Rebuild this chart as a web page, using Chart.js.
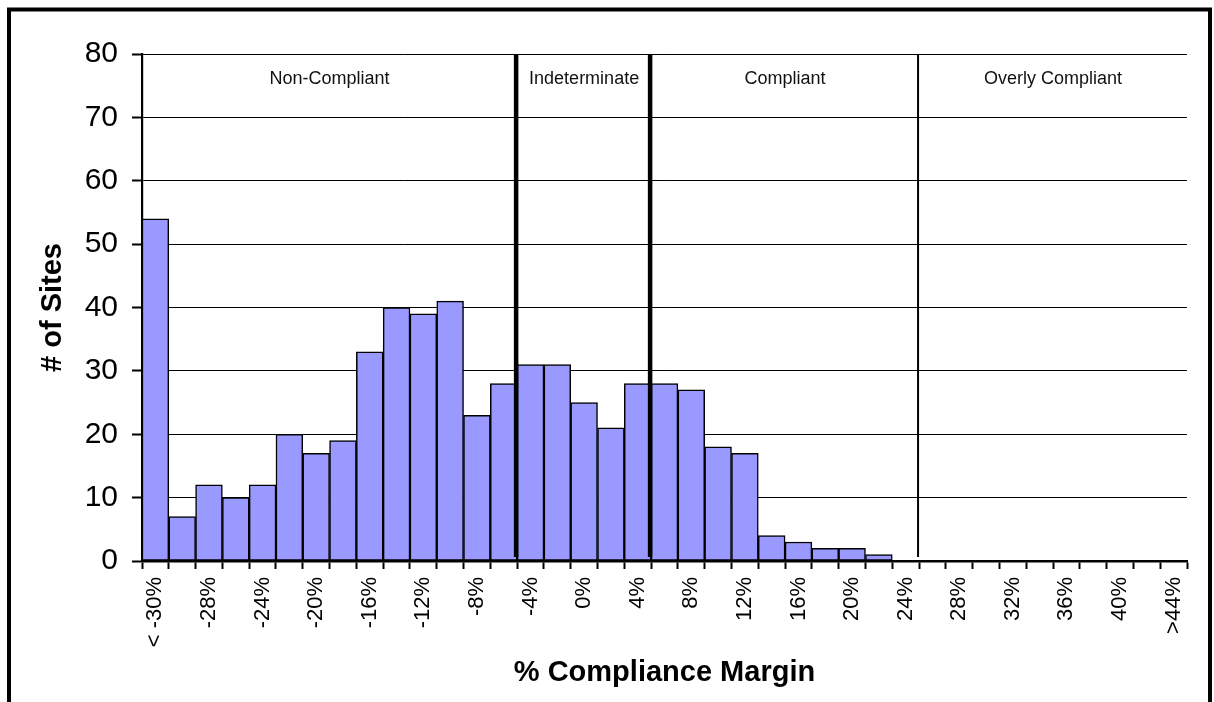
<!DOCTYPE html>
<html><head><meta charset="utf-8">
<script src="https://cdn.jsdelivr.net/npm/chart.js@4.4.1/dist/chart.umd.min.js"></script>
<style>html,body{margin:0;padding:0;background:#fff}#wrap{width:1214px;height:702px;position:relative}</style>
</head><body><div id="wrap"><canvas id="c"></canvas></div>
<script>
const categories = ["< -30%","-30%","-28%","-26%","-24%","-22%","-20%","-18%","-16%","-14%","-12%","-10%","-8%","-6%","-4%","-2%","0%","2%","4%","6%","8%","10%","12%","14%","16%","18%","20%","22%","24%","26%","28%","30%","32%","34%","36%","38%","40%","42%",">44%"];
const siteCounts = [54,7,12,10,12,20,17,19,33,40,39,41,23,28,31,31,25,21,28,28,27,18,17,4,3,2,2,1,0,0,0,0,0,0,0,0,0,0,0];
const yTicks = [0,10,20,30,40,50,60,70,80];
const regionNames = ["Non-Compliant","Indeterminate","Compliant","Overly Compliant"];
const regionBoundaries = [14,19,29];   // category index where each dividing line starts
const regionLineWeights = [4.5,4.5,2];

const FONT = "'Liberation Sans', Arial, Helvetica, sans-serif";

function edgePixel(xs, b) {
  if (b <= 0) return xs.left;
  if (b >= categories.length) return xs.right;
  return (xs.getPixelForValue(b - 1) + xs.getPixelForValue(b)) / 2;
}

const regionPlugin = {
  id: 'regions',
  afterDatasetsDraw(chart) {
    const ctx = chart.ctx, xs = chart.scales.x, ys = chart.scales.y;
    const top = chart.chartArea.top;
    const bottom = ys.getPixelForValue(0) - 4;
    ctx.save();
    ctx.strokeStyle = '#000';
    regionBoundaries.forEach((b, i) => {
      const x = edgePixel(xs, b) - 1;
      ctx.lineWidth = regionLineWeights[i];
      ctx.beginPath(); ctx.moveTo(x, top); ctx.lineTo(x, bottom); ctx.stroke();
    });
    const edges = [0, ...regionBoundaries, categories.length];
    ctx.fillStyle = '#111';
    ctx.font = "18px " + FONT;
    ctx.textAlign = 'center';
    ctx.textBaseline = 'middle';
    const ly = ys.getPixelForValue(76);
    regionNames.forEach((n, i) => {
      const cx = (edgePixel(xs, edges[i]) + edgePixel(xs, edges[i + 1])) / 2;
      ctx.fillText(n, cx, ly);
    });
    ctx.restore();
  },
  afterDraw(chart) {
    const ctx = chart.ctx;
    ctx.save();
    ctx.strokeStyle = '#000';
    ctx.lineWidth = 4;
    ctx.beginPath();
    ctx.moveTo(9, 702); ctx.lineTo(9, 9.5); ctx.lineTo(1210, 9.5); ctx.lineTo(1210, 702);
    ctx.stroke();
    ctx.restore();
  }
};

new Chart(document.getElementById('c'), {
  type: 'bar',
  data: {
    labels: categories,
    datasets: [{
      data: siteCounts,
      backgroundColor: '#9999FF',
      borderColor: '#000',
      borderWidth: 1.5,
      borderSkipped: false,
      barPercentage: 1.0,
      categoryPercentage: 1.0
    }]
  },
  options: {
    responsive: true,
    maintainAspectRatio: false,
    animation: false,
    devicePixelRatio: 1,
    layout: { padding: { left: 12, right: 27, top: 54, bottom: 0 } },
    plugins: { legend: { display: false }, tooltip: { enabled: false } },
    scales: {
      x: {
        afterFit(s) { s.height = 141; },
        grid: { display: true, drawOnChartArea: false, drawTicks: true, tickLength: 8, tickWidth: 2, tickColor: '#000', color: '#000', offset: true },
        border: { display: true, color: '#000', width: 2.5 },
        ticks: {
          autoSkip: false, minRotation: 90, maxRotation: 90, padding: 8,
          color: '#000', font: { family: FONT, size: 22 },
          callback: (v, i) => (i % 2 === 0 ? categories[i] : '')
        },
        title: { display: true, text: '% Compliance Margin', color: '#000',
          font: { family: FONT, size: 29, weight: 'bold' }, padding: { top: 0, bottom: 12 } }
      },
      y: {
        min: 0, max: 80,
        afterFit(s) { s.width = 130; },
        afterBuildTicks(s) { s.ticks = yTicks.map(v => ({ value: v })); },
        grid: { color: '#000', lineWidth: 1, tickLength: 10, tickWidth: 2, tickColor: '#000' },
        border: { display: true, color: '#000', width: 2.2 },
        ticks: { padding: 14, color: '#000', font: { family: FONT, size: 30 } },
        title: { display: true, text: '# of Sites', color: '#000',
          font: { family: FONT, size: 29, weight: 'bold' }, padding: { top: 24, bottom: 0 } }
      }
    }
  },
  plugins: [regionPlugin]
});
</script>
</body></html>
